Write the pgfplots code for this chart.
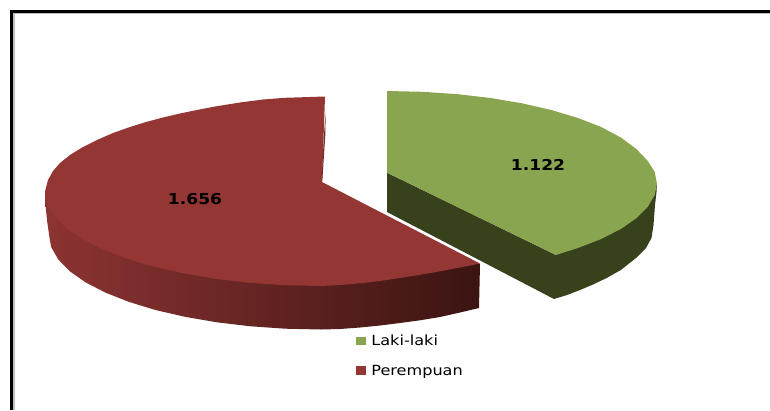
\documentclass[border=0pt]{standalone}
\usepackage{fontspec}
\setmainfont{DejaVu Sans}
\usepackage{graphicx}
\usepackage{pgfplots}
\pgfplotsset{compat=1.18}
\definecolor{greentop}{HTML}{8AA54F}
\definecolor{greenside}{HTML}{37411C}
\definecolor{redtop}{HTML}{943634}
\definecolor{rednotch}{HTML}{742827}
\definecolor{sideA}{HTML}{8C3432}
\definecolor{sideB}{HTML}{5A2220}
\definecolor{sideC}{HTML}{3B1412}
\begin{document}
\begin{tikzpicture}
\begin{axis}[
  width=770pt, height=410pt, scale only axis,
  xmin=0, xmax=770, ymin=0, ymax=410, y dir=reverse,
  hide axis,
  legend style={draw=none, fill=none, at={(axis cs:354,331)}, anchor=north west,
    font=\fontsize{14}{16}\selectfont, row sep=13.5pt, inner sep=2pt},
  legend cell align=left,
  legend image code/.code={\fill[#1, draw=none] (0pt,-4.2pt) rectangle (10pt,4.2pt);\path (13pt,0pt);},
]
% page and frame
\addplot[fill=white, draw=none, forget plot] coordinates {(0,0)(770,0)(770,410)(0,410)} --cycle;
\addplot[fill=black!25, draw=none, forget plot] coordinates {(12.7,12.7)(15,12.7)(15,410)(12.7,410)} --cycle;
\addplot[fill=black!25, draw=none, forget plot] coordinates {(12.7,12.7)(770,12.7)(770,13.4)(12.7,13.4)} --cycle;
\addplot[fill=black, draw=none, forget plot] coordinates {(10,10)(770,10)(770,12.7)(10,12.7)} --cycle;
\addplot[fill=black, draw=none, forget plot] coordinates {(10,10)(12.7,10)(12.7,410)(10,410)} --cycle;
% red slice, side wall
\addplot[draw=none, left color=sideA, middle color=sideB, right color=sideC, forget plot] coordinates {
  (45,192)(45.5,205)(47,220)(50,241)(51.3,247.3)(58.3,259.5)(69.7,271.2)(85.4,282.25)
  (105.2,292.5)(128.7,301.8)(155.4,310)(185,316.8)(216.9,322.3)(250.6,326.3)(285.5,328.7)
  (321,329.5)(340,329)(360,327.5)(380,325.5)(400,323)(420,320.3)(440,317)(460,312.5)
  (479,308)(480,264)(321,200)
} --cycle;
% red slice, top
\addplot[fill=redtop, draw=none, forget plot] coordinates {
  (322,182)(325,96.5)(285,97.8)(263,99.5)(240,102.5)(215,106.5)(197,110)(180,113.5)(163,117.5)
  (146,122)(130,127)(113,133)(97,140)(83,147)(70,155)(60,163)(53,171)(48,180)(45,191.5)
  (47.4,203.8)(54.4,216)(66,227.7)(82,238.75)(102,249)(125.8,258.3)(153,266.5)(183,273.3)(215.4,278.8)
  (249.6,282.8)(285,285.2)(321,286)(340,285)(360,283.3)(380,281)(400,278)(420,274.8)
  (440,271.3)(460,267.5)(480,263.5)
} --cycle;
\addplot[fill=rednotch, draw=none, forget plot] coordinates {
  (325.7,112)(325.3,135)(322.3,181)(321.8,175)(324,135)
} --cycle;
% green slice, side wall
\addplot[fill=greenside, draw=none, forget plot] coordinates {
  (387,172.7)(556,255)(657,183)(656.5,192)(655,205)(653.5,225)(651.5,238)(646,248)(636,258)
  (620.8,270)(606.7,278)(593,284.5)(580,290)(567,295)(554,299)(387,212)
} --cycle;
% green slice, top
\addplot[fill=greentop, draw=none, forget plot] coordinates {
  (387,172.7)(387,91)(422.2,91.8)(456.9,94.1)(490.3,98)(522,103.3)(551.4,110)(577.9,118)
  (601.2,127)(620.8,137.5)(636.4,149)(647.8,161)(654.7,172)(657,184)(654.7,195)
  (647.8,206.8)(636.4,218.2)(620.8,229)(601.2,239)(577.9,248)(556,255)
} --cycle;
% value labels
\addplot[draw=none, mark=none, forget plot, point meta=explicit symbolic, nodes near coords,
  every node near coord/.append style={anchor=center, inner sep=0pt, xscale=1.14,
    font=\fontsize{15}{17}\selectfont\bfseries}]
  coordinates {(538,165)[1.122] (195,199.5)[1.656]};
\addlegendimage{fill=greentop}
\addlegendentry{\scalebox{1.15}[1]{Laki-laki}}
\addlegendimage{fill=redtop}
\addlegendentry{\scalebox{1.15}[1]{Perempuan}}
\end{axis}
\end{tikzpicture}
\end{document}
